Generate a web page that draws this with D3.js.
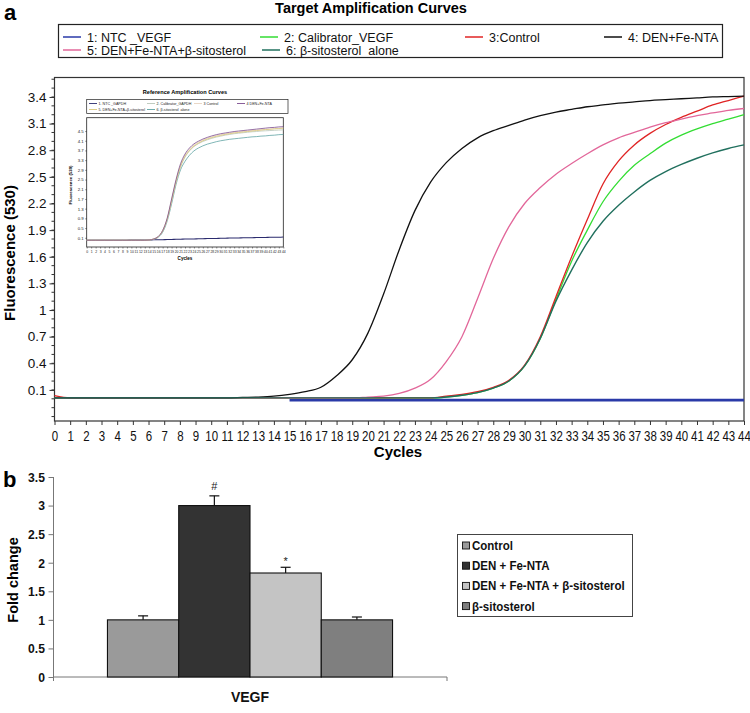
<!DOCTYPE html>
<html><head><meta charset="utf-8">
<script src="https://cdn.jsdelivr.net/npm/d3@7"></script>
<style>body{margin:0;background:#fff} svg{display:block}</style>
</head><body><svg id="c" width="750" height="713"></svg>
<script>
// ---------- DATA: panel a (Target amplification curves) ----------
const cycles = d3.range(0, 45);
const ntcVEGF = [null,null,null,null,null,null,null,null,null,null,null,null,null,null,null,
  -0.015,-0.015,-0.015,-0.015,-0.015,-0.015,-0.015,-0.015,-0.015,-0.015,-0.015,-0.015,-0.015,-0.015,-0.015,
  -0.015,-0.015,-0.015,-0.015,-0.015,-0.015,-0.015,-0.015,-0.015,-0.015,-0.015,-0.015,-0.015,-0.015,-0.015];
const calibratorVEGF = [0.01,0.01,0.01,0.01,0.01,0.01,0.01,0.01,0.01,0.01,0.01,0.01,0.01,0.01,0.01,
  0.01,0.01,0.01,0.01,0.01,0.01,0.01,0.01,0.01,0.01,0.02,0.04,0.07,0.12,0.20,
  0.37,0.68,1.12,1.55,1.90,2.22,2.45,2.63,2.76,2.88,2.97,3.04,3.10,3.15,3.20];
const controlVEGF = [0.035,0.01,0.01,0.01,0.01,0.01,0.01,0.01,0.01,0.01,0.01,0.01,0.01,0.01,0.01,
  0.01,0.01,0.01,0.01,0.01,0.01,0.01,0.01,0.01,0.01,0.03,0.05,0.08,0.13,0.21,
  0.38,0.70,1.15,1.60,2.02,2.42,2.68,2.86,2.99,3.09,3.17,3.24,3.31,3.36,3.41];
const denFeNTA = [0.01,0.01,0.01,0.01,0.01,0.01,0.01,0.01,0.01,0.01,0.01,0.01,0.015,0.02,0.03,
  0.05,0.08,0.13,0.26,0.44,0.74,1.18,1.68,2.12,2.44,2.66,2.82,2.94,3.02,3.08,
  3.14,3.19,3.23,3.26,3.29,3.31,3.33,3.345,3.36,3.37,3.38,3.39,3.40,3.405,3.41];
const denFeNTASito = [0.01,0.01,0.01,0.01,0.01,0.01,0.01,0.01,0.01,0.01,0.01,0.01,0.01,0.01,0.01,
  0.01,0.01,0.01,0.01,0.01,0.02,0.03,0.06,0.12,0.22,0.42,0.70,1.13,1.58,1.94,
  2.20,2.38,2.53,2.65,2.76,2.86,2.94,3.00,3.06,3.11,3.15,3.19,3.22,3.25,3.27];
const sitoAlone = [0.01,0.01,0.01,0.01,0.01,0.01,0.01,0.01,0.01,0.01,0.01,0.01,0.01,0.01,0.01,
  0.01,0.01,0.01,0.01,0.01,0.01,0.01,0.01,0.01,0.01,0.02,0.04,0.07,0.12,0.20,
  0.37,0.68,1.10,1.45,1.76,2.00,2.18,2.33,2.46,2.56,2.64,2.71,2.77,2.82,2.86];
const seriesNames = ["1: NTC _VEGF","2: Calibrator_VEGF","3:Control","4: DEN+Fe-NTA",
  "5: DEN+Fe-NTA+β-sitosterol","6: β-sitosterol  alone"];
const seriesColors = ["#2a3aa8","#33dd33","#e02424","#111111","#e2679a","#21705e"];
const mainYTicks = [0.1,0.4,0.7,1,1.3,1.6,1.9,2.2,2.5,2.8,3.1,3.4];

// ---------- DATA: inset (Reference amplification curves) ----------
const insetNames = ["1. NTC _GAPDH","2. Calibrator_GAPDH","3 Control","4 DEN+Fe-NTA",
  "5. DEN+Fe-NTA+β-sitosterol","6. β-sitosterol  alone"];
const insetColors = ["#2b2b6e","#b9c6b9","#e6d3c0","#7c4c8e","#d9c77a","#5fa3a3"];
const insetNTC = [0,0,0,0,0,0,0,0,0,0,0.01,0.01,0.01,0.01,0.01,0.02,0.02,0.02,0.03,0.03,
  0.04,0.04,0.05,0.05,0.05,0.06,0.06,0.07,0.07,0.07,0.08,0.08,0.09,0.09,0.09,0.10,0.10,0.10,0.11,0.11,
  0.11,0.12,0.12,0.12,0.13];
const insetCal = [0,0,0,0,0,0,0,0,0,0,0,0,0,0,0.01,0.05,0.14,0.38,0.85,1.60,2.40,3.02,3.42,3.68,3.86,
  3.98,4.07,4.14,4.20,4.25,4.29,4.33,4.36,4.39,4.41,4.43,4.45,4.47,4.48,4.50,4.51,4.52,4.53,4.54,4.55];
const insetCtrl = [0,0,0,0,0,0,0,0,0,0,0,0,0,0,0.01,0.05,0.15,0.40,0.88,1.66,2.46,3.10,3.50,3.75,3.92,
  4.04,4.13,4.20,4.26,4.31,4.35,4.38,4.41,4.44,4.46,4.48,4.50,4.52,4.54,4.55,4.57,4.58,4.60,4.61,4.63];
const insetDEN = [0,0,0,0,0,0,0,0,0,0,0,0,0,0,0.01,0.05,0.15,0.40,0.90,1.70,2.50,3.15,3.55,3.80,3.97,
  4.08,4.17,4.24,4.30,4.35,4.39,4.42,4.45,4.48,4.50,4.52,4.54,4.56,4.58,4.60,4.62,4.64,4.65,4.67,4.68];
const insetDENSito = [0,0,0,0,0,0,0,0,0,0,0,0,0,0,0.01,0.05,0.14,0.38,0.86,1.62,2.42,3.05,3.45,3.70,3.88,
  4.00,4.10,4.17,4.23,4.28,4.32,4.36,4.39,4.42,4.44,4.46,4.48,4.50,4.52,4.54,4.56,4.57,4.59,4.60,4.62];
const insetSito = [0,0,0,0,0,0,0,0,0,0,0,0,0,0,0.01,0.04,0.12,0.33,0.78,1.50,2.30,2.90,3.25,3.50,3.68,
  3.80,3.89,3.96,4.01,4.06,4.10,4.13,4.16,4.18,4.20,4.22,4.24,4.26,4.27,4.29,4.30,4.32,4.33,4.35,4.36];
const insetYTicks = [0.1,0.5,0.9,1.3,1.7,2.1,2.5,2.9,3.3,3.7,4.1,4.5];

// ---------- DATA: panel b (fold change) ----------
const genes = ["VEGF"];
const barNames = ["Control","DEN + Fe-NTA","DEN + Fe-NTA + β-sitosterol","β-sitosterol"];
const barValues = [1.0, 3.0, 1.82, 1.0];
const barErrors = [0.07, 0.17, 0.10, 0.05];
const barMarks = ["", "#", "*", ""];
const barColors = ["#9a9a9a","#333333","#c4c4c4","#7f7f7f"];
const foldTicks = [0,0.5,1,1.5,2,2.5,3,3.5];

// ---------- DRAW ----------
const svg = d3.select("#c");
const SANS = "'Liberation Sans', Arial, sans-serif";
const SQ = 0.82; // horizontal squeeze to mimic a narrow face

// panel letters & title
svg.append("text").attr("x",4).attr("y",20).text("a")
  .style("font-family",SANS).style("font-weight","bold").style("font-size","22px");
svg.append("text").attr("x",371).attr("y",13).attr("text-anchor","middle")
  .text("Target Amplification Curves")
  .style("font-family",SANS).style("font-weight","bold").style("font-size","14.5px");

// legend a
const lg = svg.append("g");
lg.append("rect").attr("x",58.5).attr("y",24.5).attr("width",664).attr("height",33)
  .attr("fill","#fff").attr("stroke","#222").attr("stroke-width",1.2);
const legPos = [[63,37],[260,37],[465,37],[604,37],[63,50],[262,50]];
seriesNames.forEach((n,i)=>{
  const [lx,ly] = legPos[i];
  lg.append("line").attr("x1",lx).attr("x2",lx+18).attr("y1",ly).attr("y2",ly)
    .attr("stroke",seriesColors[i]).attr("stroke-width",1.5);
  lg.append("text").attr("x",lx+24).attr("y",ly+4.5).text(n).style("white-space","pre")
    .style("font-family",SANS).style("font-size","12.5px").attr("fill","#111");
});

// main plot
const x = d3.scaleLinear().domain([0,44]).range([54.5,744]);
const y = d3.scaleLinear().domain([-0.25,3.625]).range([421,77]);
svg.append("rect").attr("x",54.5).attr("y",77.5).attr("width",689.5).attr("height",343.5)
  .attr("fill","#fff").attr("stroke","#333").attr("stroke-width",1.2);

const yAx = svg.append("g").attr("transform","translate(54.5,0)")
  .call(d3.axisLeft(y).tickValues(mainYTicks).tickSize(5).tickPadding(3).tickFormat(d=>String(d)));
yAx.select(".domain").remove();
yAx.selectAll("text").style("font-family",SANS).style("font-size","13.5px").attr("fill","#111");
yAx.selectAll("line").attr("stroke","#333");
const minorY = d3.range(-0.2,3.61,0.1).map(v=>+v.toFixed(2));
svg.append("g").selectAll("line").data(minorY).join("line")
  .attr("x1",51.5).attr("x2",54.5).attr("y1",d=>y(d)).attr("y2",d=>y(d)).attr("stroke","#333");

const xAx = svg.append("g").attr("transform","translate(0,421)")
  .call(d3.axisBottom(x).tickValues(cycles).tickSize(4).tickPadding(6).tickFormat(d=>String(d)));
xAx.select(".domain").remove();
xAx.selectAll("text").style("font-family",SANS).style("font-size","14px").attr("fill","#111")
  .attr("transform",`scale(${SQ},1)`);
xAx.selectAll("line").attr("stroke","#333");

svg.append("text").attr("transform","translate(15,253) rotate(-90)").attr("text-anchor","middle")
  .text("Fluorescence (530)")
  .style("font-family",SANS).style("font-weight","bold").style("font-size","15px");
svg.append("text").attr("x",398).attr("y",457).attr("text-anchor","middle").text("Cycles")
  .style("font-family",SANS).style("font-weight","bold").style("font-size","15px");

const line = d3.line().defined(d=>d[1]!==null).x(d=>x(d[0])).y(d=>y(d[1])).curve(d3.curveMonotoneX);
const mainSeries = [ntcVEGF,calibratorVEGF,controlVEGF,denFeNTA,denFeNTASito,sitoAlone];
const drawOrder = [0,1,2,4,3,5];
const widths = [2.6,1.3,1.3,1.3,1.3,1.4];
drawOrder.forEach(i=>{
  svg.append("path").datum(cycles.map(c=>[c,mainSeries[i][c]]))
    .attr("d",line).attr("fill","none").attr("stroke",seriesColors[i]).attr("stroke-width",widths[i]);
});

// ---------- inset ----------
const ix = d3.scaleLinear().domain([0,44]).range([86.7,283.3]);
const iy = d3.scaleLinear().domain([-0.28,5.05]).range([247,117.7]);
const ig = svg.append("g");
ig.append("text").attr("x",185).attr("y",94).attr("text-anchor","middle").text("Reference Amplification Curves")
  .style("font-family",SANS).style("font-weight","bold").style("font-size","5.6px");
ig.append("rect").attr("x",86.7).attr("y",99.5).attr("width",201.3).attr("height",14)
  .attr("fill","#fff").attr("stroke","#222").attr("stroke-width",0.7);
const iLegPos = [[89,103.5],[147,103.5],[194,103.5],[237,103.5],[89,109.5],[147,109.5]];
insetNames.forEach((n,i)=>{
  const [lx,ly] = iLegPos[i];
  ig.append("line").attr("x1",lx).attr("x2",lx+8).attr("y1",ly).attr("y2",ly)
    .attr("stroke",insetColors[i]).attr("stroke-width",0.9);
  ig.append("text").attr("transform",`translate(${lx+9.5},${ly+1.5}) scale(0.85,1)`).text(n)
    .style("white-space","pre")
    .style("font-family",SANS).style("font-size","4.3px").attr("fill","#222");
});
ig.append("rect").attr("x",86.7).attr("y",117.7).attr("width",196.6).attr("height",129.3)
  .attr("fill","#fff").attr("stroke","#222").attr("stroke-width",0.8);
const iyAx = ig.append("g").attr("transform","translate(86.7,0)")
  .call(d3.axisLeft(iy).tickValues(insetYTicks).tickSize(1.5).tickPadding(1.5).tickFormat(d=>String(d)));
iyAx.select(".domain").remove();
iyAx.selectAll("text").style("font-family",SANS).style("font-size","4.3px").attr("fill","#222");
iyAx.selectAll("line").attr("stroke","#222").attr("stroke-width",0.5);
const ixAx = ig.append("g").attr("transform","translate(0,247)")
  .call(d3.axisBottom(ix).tickValues(cycles).tickSize(1.5).tickPadding(1.5).tickFormat(d=>String(d)));
ixAx.select(".domain").remove();
ixAx.selectAll("text").style("font-family",SANS).style("font-size","4.3px").attr("fill","#222")
  .attr("transform","scale(0.8,1)");
ixAx.selectAll("line").attr("stroke","#222").attr("stroke-width",0.5);
ig.append("text").attr("x",185).attr("y",260).attr("text-anchor","middle").text("Cycles")
  .style("font-family",SANS).style("font-weight","bold").style("font-size","4.6px");
ig.append("text").attr("transform","translate(72,185) rotate(-90)").attr("text-anchor","middle")
  .text("Fluorescence (530)")
  .style("font-family",SANS).style("font-weight","bold").style("font-size","4.3px");
const iline = d3.line().x(d=>ix(d[0])).y(d=>iy(d[1])).curve(d3.curveMonotoneX);
const insetSeries = [insetNTC,insetCal,insetCtrl,insetDEN,insetDENSito,insetSito];
[0,5,1,2,4,3].forEach(i=>{
  ig.append("path").datum(cycles.map(c=>[c,insetSeries[i][c]]))
    .attr("d",iline).attr("fill","none").attr("stroke",insetColors[i]).attr("stroke-width",i===0?1.1:0.8);
});

// ---------- panel b ----------
svg.append("text").attr("x",3).attr("y",487).text("b")
  .style("font-family",SANS).style("font-weight","bold").style("font-size","22px");
const yb = d3.scaleLinear().domain([0,3.5]).range([677,477]);
const x0 = d3.scaleBand().domain(genes).range([53,447]).paddingOuter(0.191).paddingInner(0);
const x1 = d3.scaleBand().domain(barNames).range([0,x0.bandwidth()]);

const BSQ = 0.9;
const ybAx = svg.append("g").attr("transform","translate(53.5,0)")
  .call(d3.axisLeft(yb).tickValues(foldTicks).tickSize(5).tickPadding(4).tickFormat(d=>String(d)));
ybAx.select(".domain").attr("stroke","#777").attr("d","M0,477V681");
ybAx.selectAll("line").attr("stroke","#777");
ybAx.selectAll("text").style("font-family",SANS).style("font-weight","bold").style("font-size","13.5px").attr("fill","#111")
  .attr("x",-8.5/BSQ).attr("transform",`scale(${BSQ},1)`);

const xbAx = svg.append("g").attr("transform","translate(0,677)")
  .call(d3.axisBottom(x0).tickSize(0).tickPadding(15));
xbAx.select(".domain").attr("stroke","#777").attr("d","M53.5,0H447V4");
xbAx.selectAll("text").style("font-family",SANS).style("font-weight","bold").style("font-size","14px").attr("fill","#111");

svg.append("text").attr("transform","translate(18,580) rotate(-90)").attr("text-anchor","middle")
  .text("Fold change")
  .style("font-family",SANS).style("font-weight","bold").style("font-size","14.5px");

const barData = barNames.map((n,i)=>({gene:genes[0],name:n,v:barValues[i],e:barErrors[i],m:barMarks[i],c:barColors[i]}));
const bg = svg.append("g");
const cx = d=>x0(d.gene)+x1(d.name)+x1.bandwidth()/2;
bg.selectAll("rect").data(barData).join("rect")
  .attr("x",d=>x0(d.gene)+x1(d.name)).attr("width",x1.bandwidth())
  .attr("y",d=>yb(d.v)).attr("height",d=>yb(0)-yb(d.v))
  .attr("fill",d=>d.c).attr("stroke","#111").attr("stroke-width",1.1);
bg.selectAll("line.err").data(barData).join("line").attr("class","err")
  .attr("x1",cx).attr("x2",cx)
  .attr("y1",d=>yb(d.v)).attr("y2",d=>yb(d.v+d.e)).attr("stroke","#111").attr("stroke-width",1.2);
bg.selectAll("line.cap").data(barData).join("line").attr("class","cap")
  .attr("x1",d=>cx(d)-5).attr("x2",d=>cx(d)+5)
  .attr("y1",d=>yb(d.v+d.e)).attr("y2",d=>yb(d.v+d.e)).attr("stroke","#111").attr("stroke-width",1.2);
bg.selectAll("text.mark").data(barData.filter(d=>d.m)).join("text").attr("class","mark")
  .attr("x",cx).attr("y",d=>yb(d.v+d.e)-(d.m==="*"?2:6))
  .attr("text-anchor","middle").text(d=>d.m)
  .style("font-family",SANS).style("font-size","11px").attr("fill","#222");

// legend b
const lb = svg.append("g");
lb.append("rect").attr("x",457.5).attr("y",534.5).attr("width",175).attr("height",82)
  .attr("fill","#fff").attr("stroke","#444").attr("stroke-width",1);
barNames.forEach((n,i)=>{
  const cy = 545.5 + i*20.2;
  lb.append("rect").attr("x",462.5).attr("y",cy-3.5).attr("width",7).attr("height",7)
    .attr("fill",barColors[i]).attr("stroke","#111").attr("stroke-width",0.9);
  lb.append("text").attr("transform",`translate(472,${cy+4.5}) scale(0.96,1)`).text(n)
    .style("font-family",SANS).style("font-weight","bold").style("font-size","12px").attr("fill","#111");
});
</script></body></html>
